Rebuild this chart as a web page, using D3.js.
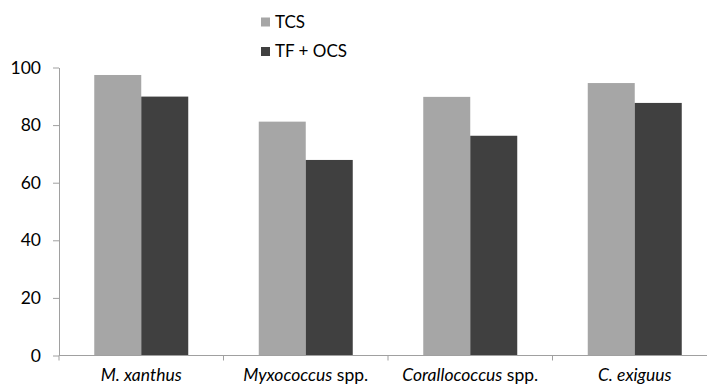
<!DOCTYPE html>
<html lang="en">
<head>
  <meta charset="UTF-8">
  <title>TCS vs TF + OCS</title>
  <script src="https://d3js.org/d3.v7.min.js"></script>
  <style>
    * { margin: 0; padding: 0; box-sizing: border-box; }
    body { background: #fff; font-family: Lato, "Open Sans", sans-serif; }
    .tick text { font-family: Lato, sans-serif; font-size: 17.5px; fill: #000; }
  </style>
</head>
<body>
  <div id="chart"></div>
  <script>
    // data
    const categories = ["M. xanthus", "Myxococcus spp.", "Corallococcus spp.", "C. exiguus"];
    const seriesNames = ["TCS", "TF + OCS"];
    const tcs = [97.4, 81.2, 89.8, 94.6];
    const tfOcs = [89.9, 67.9, 76.3, 87.7];
    const yTicks = [0, 20, 40, 60, 80, 100];
    const colors = ["#a6a6a6", "#404040"];

    const W = 707, H = 385;
    const svg = d3.select("#chart").append("svg")
      .attr("width", W).attr("height", H);

    const x0 = d3.scaleBand().domain(categories).range([59, 717]).padding(0);
    const groupW = x0.bandwidth() * 2 / 3.5;
    const x1 = d3.scaleBand().domain(seriesNames).range([0, groupW]).padding(0);
    const y = d3.scaleLinear().domain([0, 100]).range([355.5, 67.5]);

    const data = categories.map((c, i) => ({cat: c, vals: [tcs[i], tfOcs[i]]}));

    // bars
    const groups = svg.selectAll(".grp").data(data).enter().append("g")
      .attr("transform", d => `translate(${x0(d.cat) + (x0.bandwidth() - groupW) / 2},0)`);
    groups.selectAll("rect")
      .data(d => d.vals.map((v, j) => ({s: seriesNames[j], v, j})))
      .enter().append("rect")
      .attr("x", d => x1(d.s))
      .attr("y", d => y(d.v))
      .attr("width", x1.bandwidth())
      .attr("height", d => y(0) - y(d.v))
      .attr("fill", d => colors[d.j]);

    // y axis
    const yAxis = svg.append("g").attr("transform", "translate(59,0)")
      .call(d3.axisLeft(y).tickValues(yTicks).tickSize(6).tickPadding(12).tickSizeOuter(0));
    yAxis.select(".domain").attr("stroke", "#a0a0a0");
    yAxis.selectAll(".tick line").attr("stroke", "#a0a0a0");

    // x axis with ticks at category boundaries
    const xg = svg.append("g").attr("transform", `translate(0,${y(0)})`);
    xg.append("line").attr("x1", 59).attr("x2", 717).attr("stroke", "#a0a0a0");
    xg.selectAll(".bnd").data(categories).enter().append("line")
      .attr("x1", d => x0(d)).attr("x2", d => x0(d))
      .attr("y1", 0).attr("y2", 5).attr("stroke", "#a0a0a0");

    // category labels: italic genus, upright "spp."
    const lbl = xg.selectAll(".cl").data(categories).enter().append("text")
      .attr("x", d => x0(d) + x0.bandwidth() / 2)
      .attr("y", 25)
      .attr("text-anchor", "middle")
      .style("font-family", "Lato, sans-serif")
      .style("font-size", "17.5px")
      .attr("fill", "#000");
    lbl.each(function(d) {
      const t = d3.select(this);
      const m = d.match(/^(.*?)( spp\.)?$/);
      t.append("tspan").style("font-style", "italic").text(m[1]);
      if (m[2]) t.append("tspan").text(m[2]);
    });

    // legend
    const leg = svg.append("g").attr("transform", "translate(261,0)");
    const legY = [22, 51.5];
    seriesNames.forEach((s, i) => {
      leg.append("rect").attr("x", 0).attr("y", legY[i] - 4.5)
        .attr("width", 9).attr("height", 9).attr("fill", colors[i]);
      leg.append("text").attr("x", 14).attr("y", legY[i])
        .attr("dy", "0.35em")
        .style("font-family", "Lato, sans-serif")
        .style("font-size", "17px")
        .attr("fill", "#000")
        .text(s);
    });
  </script>
</body>
</html>
